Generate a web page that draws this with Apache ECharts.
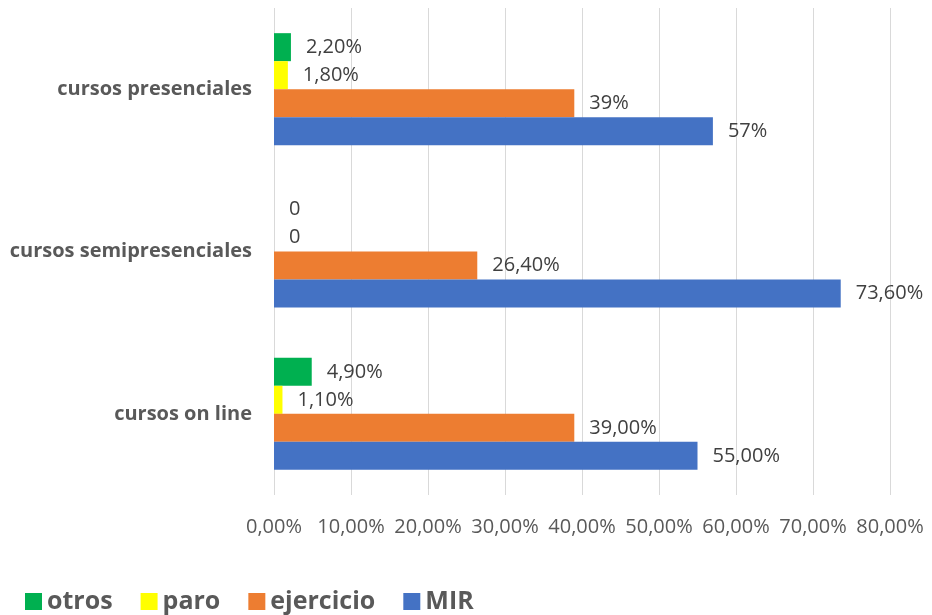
<!DOCTYPE html>
<html>
<head>
<meta charset="utf-8">
<script src="https://cdn.jsdelivr.net/npm/echarts@6/dist/echarts.min.js"></script>
<style>
  html, body { margin: 0; padding: 0; background: #fff; }
  #chart { width: 932px; height: 615px; }
</style>
</head>
<body>
<div id="chart"></div>
<script>
// categories, bottom to top (category axis starts at the bottom)
var cursos = ["cursos on line", "cursos semipresenciales", "cursos presenciales"];

// values in %
var mir = [55, 73.6, 57];
var ejercicio = [39, 26.4, 39];
var paro = [1.1, 0, 1.8];
var otros = [4.9, 0, 2.2];

// data labels as shown
var mirLabels = ["55,00%", "73,60%", "57%"];
var ejercicioLabels = ["39,00%", "26,40%", "39%"];
var paroLabels = ["1,10%", "0", "1,80%"];
var otrosLabels = ["4,90%", "0", "2,20%"];

var ticks = [0, 10, 20, 30, 40, 50, 60, 70, 80];

var font = "'Open Sans', 'Liberation Sans', sans-serif";

function serie(name, color, values, labels) {
  return {
    name: name,
    type: "bar",
    data: values,
    barWidth: 28,
    barGap: "0%",
    itemStyle: { color: color },
    label: {
      show: true,
      position: "right",
      distance: 15,
      color: "#404040",
      fontFamily: font,
      fontSize: 20,
      formatter: function (p) { return labels[p.dataIndex]; }
    }
  };
}

var myChart = echarts.init(document.getElementById("chart"));
var option = {
  animation: false,
  grid: { left: 274, right: 42, top: 8, bottom: 120, containLabel: false },
  legend: {
    data: ["otros", "paro", "ejercicio", "MIR"],
    left: 20,
    top: 584,
    icon: "rect",
    itemWidth: 17,
    itemHeight: 17,
    itemGap: 28,
    textStyle: { color: "#595959", fontFamily: font, fontSize: 25, fontWeight: "bold" }
  },
  xAxis: {
    type: "value",
    min: ticks[0],
    max: ticks[ticks.length - 1],
    interval: 10,
    axisLine: { show: false },
    axisTick: { show: false },
    splitLine: { lineStyle: { color: "#d9d9d9", width: 1 } },
    axisLabel: {
      color: "#595959",
      fontFamily: font,
      fontSize: 20,
      margin: 22,
      formatter: function (v) { return v.toFixed(2).replace(".", ",") + "%"; }
    }
  },
  yAxis: {
    type: "category",
    data: cursos,
    axisLine: { show: false },
    axisTick: { show: false },
    axisLabel: {
      color: "#595959",
      fontFamily: font,
      fontSize: 20,
      fontWeight: "bold",
      margin: 22
    }
  },
  // first series is drawn at the top of each group
  series: [
    serie("otros", "#00b050", otros, otrosLabels),
    serie("paro", "#ffff00", paro, paroLabels),
    serie("ejercicio", "#ed7d31", ejercicio, ejercicioLabels),
    serie("MIR", "#4472c4", mir, mirLabels)
  ]
};
myChart.setOption(option);
</script>
</body>
</html>
